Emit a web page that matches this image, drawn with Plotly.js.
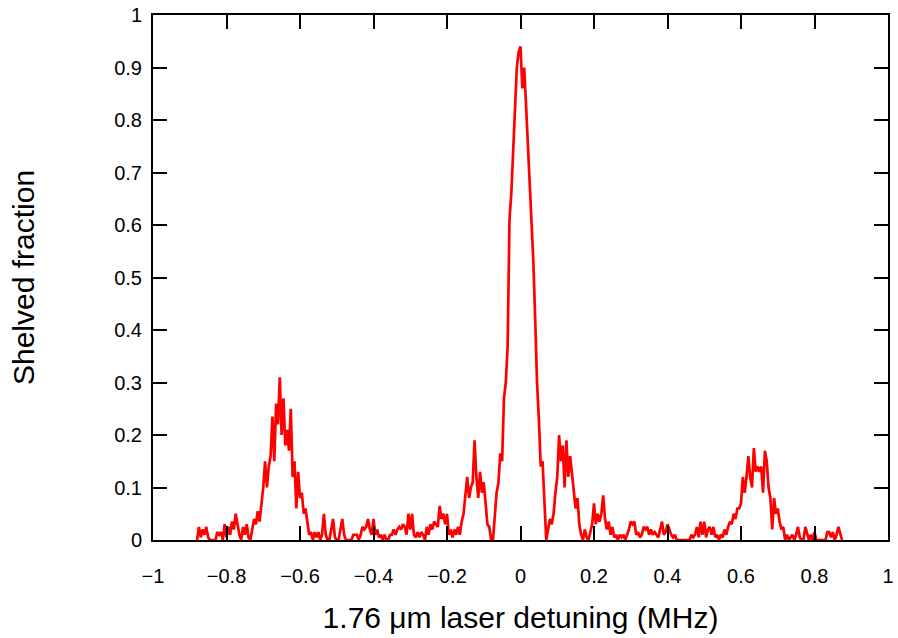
<!DOCTYPE html>
<html>
<head>
<meta charset="utf-8">
<script src="https://cdn.plot.ly/plotly-3.0.1.min.js"></script>
<style>html,body{margin:0;padding:0;background:#fff}#chart{width:898px;height:638px}</style>
</head>
<body>
<div id="chart"></div>
<script>
// Detuning grid (MHz): first sample, spacing
const detuningStart = -0.88;
const detuningStep = 0.005;

// Shelved fraction (one value per 0.005 MHz)
const shelved_m088_m075 = [0,0.025,0.005,0.02,0.01,0.025,0.005,0,0,0,0,0.015,0.01,0.015,0,0.03,0.005,0.025,0.01,0.035,0.02,0.05,0.025,0.01,0,0.025,0.01];
const shelved_leftPeak = [0.03,0.005,0,0.02,0.04,0.03,0.055,0.035,0.07,0.1,0.15,0.1,0.14,0.16,0.235,0.15,0.26,0.22,0.31,0.2,0.27,0.18,0.21,0.17,0.25,0.12,0.15,0.06,0.13,0.08,0.09,0.05,0.06,0.03,0.01,0.015,0,0.015,0.005,0.015];
const shelved_m0545_m0155 = [0,0.01,0.05,0.01,0,0,0.02,0.04,0.005,0,0,0.02,0.04,0.01,0,0,0,0,0.01,0.01,0.01,0,0.01,0.025,0.02,0.025,0.04,0.02,0.01,0.04,0.01,0.02,0.005,0.01,0,0.01,0,0,0.01,0.01,0.02,0.01,0.02,0.025,0.02,0.03,0.025,0.01,0.05,0.02,0.05,0.01,0.005,0.015,0.005,0.015,0.01,0,0.025,0.01,0.03,0.02,0.035,0.03,0.025,0.065,0.04,0.05,0.03,0.05,0.01,0.02,0.005,0.02,0.01,0.025,0.01,0.035,0.05];
const shelved_centre = [0.085,0.12,0.08,0.1,0.11,0.19,0.12,0.08,0.13,0.09,0.11,0.06,0.03,0.025,0,0,0.04,0.09,0.11,0.165,0.15,0.27,0.3,0.37,0.61,0.66,0.74,0.83,0.9,0.93,0.94,0.86,0.9,0.83,0.76,0.68,0.6,0.53,0.42,0.3,0.23,0.14,0.15,0.06,0,0.02,0.04,0.03,0.05,0.09,0.12,0.2,0.15,0.18,0.1,0.19,0.12,0.16,0.13,0.09,0.06,0.08,0.03,0.01,0,0.02,0.005,0,0.015,0.03];
const shelved_0200_0595 = [0.07,0.03,0.05,0.035,0.05,0.085,0.04,0.02,0.035,0.01,0.025,0.005,0.01,0,0.01,0.005,0.01,0,0.01,0.02,0.035,0.03,0.035,0.01,0.015,0.005,0.01,0.025,0.02,0.025,0.01,0.02,0.01,0.015,0.01,0.005,0.02,0.035,0.01,0.015,0.03,0.02,0.01,0.005,0.01,0,0,0,0,0,0,0,0,0.01,0.005,0.01,0.025,0.005,0.035,0.01,0.035,0.005,0.02,0.025,0.01,0.025,0.005,0.01,0,0.01,0.005,0.02,0.01,0.025,0.035,0.03,0.05,0.04,0.06,0.06];
const shelved_rightPeak = [0.07,0.12,0.09,0.12,0.16,0.12,0.1,0.175,0.13,0.14,0.13,0.14,0.09,0.17,0.15,0.1,0.08,0.02,0.08,0.05,0.06,0.035,0.02,0.025,0,0.01,0,0.005,0.01,0,0.01,0.025,0.005,0,0,0.025,0.01,0,0.01,0,0.015,0,0,0,0,0,0,0.015,0.015,0.005,0.015,0,0.01,0.025,0.01,0];

const shelved = [].concat(shelved_m088_m075, shelved_leftPeak, shelved_m0545_m0155, shelved_centre, shelved_0200_0595, shelved_rightPeak);
const detuning = shelved.map((_, i) => +(detuningStart + i * detuningStep).toFixed(3));

const xTickVals = [-1,-0.8,-0.6,-0.4,-0.2,0,0.2,0.4,0.6,0.8,1];
const xTickText = ['\u22121','\u22120.8','\u22120.6','\u22120.4','\u22120.2','0','0.2','0.4','0.6','0.8','1'];
const yTickVals = [0,0.1,0.2,0.3,0.4,0.5,0.6,0.7,0.8,0.9,1];
const yTickText = ['0','0.1','0.2','0.3','0.4','0.5','0.6','0.7','0.8','0.9','1'];

const font = 'Liberation Sans, Arial, sans-serif';
const axisCommon = {
  showgrid: false, zeroline: false, showline: true, linecolor: '#000', linewidth: 2,
  mirror: 'allticks', ticks: 'inside', ticklen: 14, tickwidth: 2, tickcolor: '#000',
  tickfont: {family: font, size: 20, color: '#000'}, tickmode: 'array'
};

Plotly.newPlot('chart', [{
  x: detuning, y: shelved, type: 'scatter', mode: 'lines',
  line: {color: '#ff0000', width: 2.7, shape: 'linear'}, hoverinfo: 'x+y'
}], {
  width: 898, height: 638,
  margin: {l: 153, r: 10, t: 15, b: 98},
  paper_bgcolor: '#fff', plot_bgcolor: '#fff', showlegend: false,
  xaxis: Object.assign({}, axisCommon, {
    range: [-1, 1], tickvals: xTickVals, ticktext: xTickText, ticklabelstandoff: 17,
    title: {text: '1.76 μm laser detuning (MHz)', font: {family: font, size: 30, color: '#000'}, standoff: 21}
  }),
  yaxis: Object.assign({}, axisCommon, {
    range: [0, 1], tickvals: yTickVals, ticktext: yTickText, ticklabelstandoff: 5,
    title: {text: 'Shelved fraction', font: {family: font, size: 30, color: '#000'}, standoff: 71}
  })
}, {staticPlot: true});
</script>
</body>
</html>
